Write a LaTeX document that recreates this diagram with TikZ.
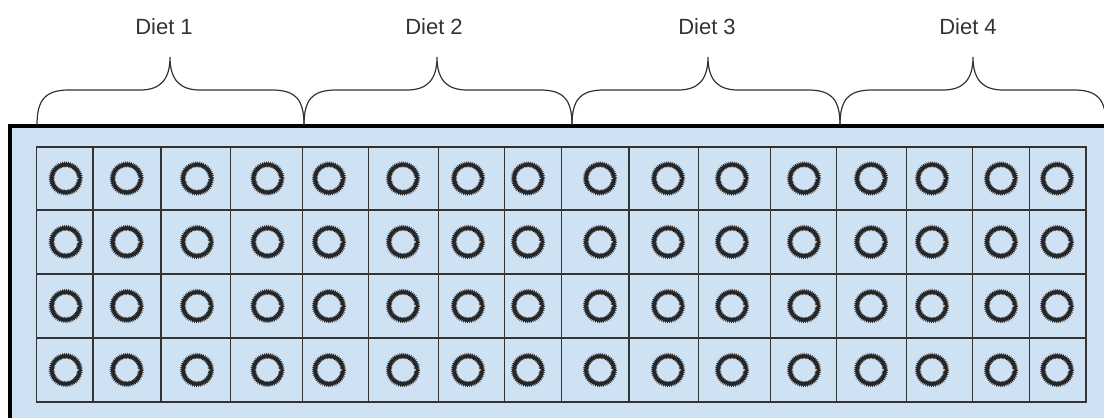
\documentclass[tikz,border=0pt]{standalone}
\usepackage{fontspec}
\setmainfont{Liberation Sans}
\usetikzlibrary{decorations.pathmorphing}
\definecolor{trayblue}{HTML}{CFE2F3}
\definecolor{ink}{HTML}{333333}
\begin{document}
\begin{tikzpicture}[x=1pt,y=-1pt,
  gridline/.style={draw=ink, line width=1.3pt},
  bracepath/.style={draw=ink, line width=1.2pt},
  ring/.style={draw=black!85, line width=1.7pt, decorate, decoration={zigzag, segment length=1.7pt, amplitude=1.0pt}},
  dietlabel/.style={anchor=base, text=ink, font=\fontsize{22}{26}\selectfont, inner sep=0pt}]
\useasboundingbox (0,0) rectangle (1104,418);
\clip (0,0) rectangle (1104,418);
% tray
\fill[trayblue] (9.5,125.5) rectangle (1120,430);
\draw[line width=4pt] (9.5,430) -- (9.5,125.5) -- (1120,125.5);
% grid
\draw[gridline] (36.7,147) rectangle (1086,402);
\foreach \x in {93,161,230.7,302.7,368.7,438.7,504.7,561.7,629,698.3,770.7,836.7,906.7,972.3,1029.3}
  \draw[gridline] (\x,147) -- (\x,402);
\foreach \y in {210,274,338}
  \draw[gridline] (36.7,\y) -- (1086,\y);
% rings
\foreach \x in {65.7,126.7,197,267.5,329,403,468,528,600,668,732,804,871,932,1001,1057}
  \foreach \y in {178.5,242,306,370}
    \draw[ring] (\x,\y) circle (14);
% braces
\foreach \a/\m/\b in {37/170/304, 304/437/572, 572/708/840, 840/973/1106}
  \draw[bracepath] (\a,125) .. controls (\a,100) and (\a+8,90) .. (\a+32,90)
    -- (\m-30,90) .. controls (\m-10,90) and (\m,80) .. (\m,57)
    .. controls (\m,80) and (\m+10,90) .. (\m+30,90)
    -- (\b-32,90) .. controls (\b-8,90) and (\b,100) .. (\b,125);
% labels
\node[dietlabel] (d1) at (164,34) {Diet 1};
\node[dietlabel] (d2) at (434,34) {Diet 2};
\node[dietlabel] (d3) at (707,34) {Diet 3};
\node[dietlabel] (d4) at (968,34) {Diet 4};
\end{tikzpicture}
\end{document}
